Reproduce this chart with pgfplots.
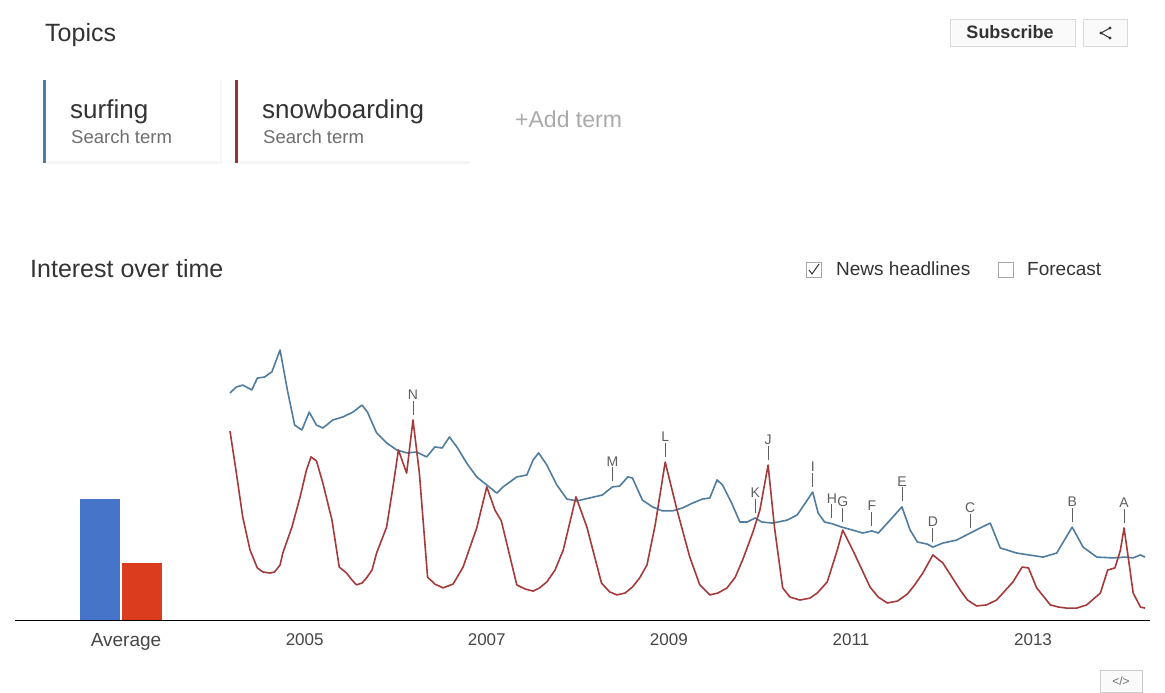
\documentclass[border=0pt]{standalone}
\usepackage{fontspec}
\setmainfont{Liberation Sans}
\usepackage{pgfplots}
\pgfplotsset{compat=1.18}

\definecolor{surfline}{RGB}{80,124,158}
\definecolor{snowline}{RGB}{165,58,58}
\definecolor{surfbar}{RGB}{70,116,200}
\definecolor{snowbar}{RGB}{220,60,30}
\definecolor{txt}{RGB}{51,51,51}
\definecolor{ticktxt}{RGB}{70,70,70}
\definecolor{subtxt}{RGB}{110,110,110}
\definecolor{faint}{RGB}{170,170,170}
\definecolor{annot}{RGB}{95,95,95}
\definecolor{baseline}{RGB}{190,190,190}

\newcommand{\fs}[1]{\fontsize{#1}{#1}\selectfont}

\begin{document}
\begin{tikzpicture}
\useasboundingbox[fill=white] (0,0) rectangle (1165pt,-693pt);

% ---------- page furniture (pixel coordinates, y downwards) ----------
\begin{scope}[x=1pt,y=-1pt]
  \node[anchor=base west, inner sep=0pt, text=txt] at (45,42) {\fs{25}Topics};

  % term boxes
  \fill[black!4] (46,161) rectangle (222,164);
  \fill[black!4] (238,161) rectangle (470,164);
  \fill[black!3] (220,80) rectangle (222,161);
  \fill[surfline] (43,80) rectangle (46,163);
  \fill[snowline!90!black] (235,80) rectangle (238,163);
  \node[anchor=base west, inner sep=0pt, text=txt] at (70,118) {\fs{26}surfing};
  \node[anchor=base west, inner sep=0pt, text=subtxt] at (71,143) {\fs{18.5}Search term};
  \node[anchor=base west, inner sep=0pt, text=txt] at (262,118) {\fs{26}snowboarding};
  \node[anchor=base west, inner sep=0pt, text=subtxt] at (263,143) {\fs{18.5}Search term};
  \node[anchor=base west, inner sep=0pt, text=faint] at (515,128) {\fs{23}+Add term};

  % subscribe and share buttons
  \draw[black!15, fill=black!2] (950,19) rectangle (1075,46);
  \node[text=txt] at (1010,32) {\fs{18}\bfseries Subscribe};
  \draw[black!15, fill=black!2] (1083,19) rectangle (1127,46);
  \draw[txt, line width=1pt] (1110,28) -- (1101,33) -- (1110,38);
  \fill[txt] (1110,28) circle (1.6) (1101,33) circle (1.6) (1110,38) circle (1.6);

  \node[anchor=base west, inner sep=0pt, text=txt] at (30,277) {\fs{25}Interest over time};

  % checkboxes
  \draw[black!35] (806,262) rectangle (821,277);
  \draw[txt, line width=1pt] (809,270) -- (812,274) -- (819,264);
  \node[anchor=base west, inner sep=0pt, text=txt] at (836,275) {\fs{19}News headlines};
  \draw[black!35] (998,262) rectangle (1013,277);
  \node[anchor=base west, inner sep=0pt, text=txt] at (1027,275) {\fs{19}Forecast};

  % baseline
  \draw[baseline, line width=1pt] (15,620) -- (1150,620);

  % embed button
  \draw[black!20, fill=black!2] (1100,670) rectangle (1142,692);
  \node[text=subtxt] at (1121,681) {\fs{12}</>};
\end{scope}

% ---------- average bars ----------
\begin{axis}[
  at={(121pt,-620pt)}, anchor=south,
  scale only axis, width=82pt, height=270pt,
  xmin=-1, xmax=1, ymin=0, ymax=100,
  ybar=2pt, bar width=40pt,
  axis line style={draw=none},
  ytick=\empty, xtick={0}, xticklabels={Average},
  major tick length=0pt,
  xticklabel style={anchor=north, inner sep=0pt, yshift=-13pt, xshift=5pt,
    font=\fs{19}, text=ticktxt},
  clip=false,
]
\addplot[fill=surfbar, draw=none] coordinates {(0,45)};
\addplot[fill=snowbar, draw=none] coordinates {(0,21)};
\end{axis}

% ---------- interest over time ----------
\begin{axis}[
  at={(230pt,-620pt)}, anchor=south west,
  scale only axis, width=915pt, height=270pt,
  xmin=2004.18, xmax=2014.23, ymin=0, ymax=100,
  axis line style={draw=none},
  ytick=\empty, xtick={2005,2007,2009,2011,2013},
  xticklabels={2005,2007,2009,2011,2013},
  major tick length=0pt,
  xticklabel style={anchor=north, inner sep=0pt, yshift=-13pt,
    font=\fs{17}, text=ticktxt},
  clip=false,
]
\addplot[surfline, line width=1.6pt, line join=round] table {
x y
2004.18 84.1
2004.25 86.3
2004.32 87.0
2004.42 85.2
2004.48 89.6
2004.56 90.0
2004.64 91.9
2004.73 100
2004.81 85.2
2004.89 72.2
2004.97 70.4
2005.05 77.0
2005.13 72.2
2005.20 71.1
2005.31 74.1
2005.42 75.2
2005.53 77.0
2005.63 79.6
2005.69 77.0
2005.79 69.3
2005.90 65.6
2006.01 63.0
2006.12 61.9
2006.23 62.2
2006.34 60.4
2006.43 64.1
2006.51 63.7
2006.59 67.8
2006.68 63.7
2006.78 58.1
2006.89 53.0
2007.00 50.0
2007.11 47.0
2007.18 49.3
2007.33 53.0
2007.44 53.7
2007.51 59.3
2007.57 61.9
2007.66 57.4
2007.77 50.0
2007.88 44.8
2007.99 44.1
2008.13 45.2
2008.27 46.3
2008.38 49.3
2008.46 49.6
2008.55 53.0
2008.60 52.6
2008.71 44.4
2008.82 41.9
2008.93 40.4
2009.04 40.4
2009.15 41.5
2009.26 43.3
2009.37 44.8
2009.45 45.2
2009.53 51.9
2009.59 50.0
2009.69 43.3
2009.78 36.3
2009.86 36.3
2009.95 37.8
2010.02 36.3
2010.14 35.9
2010.30 37.0
2010.41 38.9
2010.52 44.4
2010.58 47.4
2010.64 39.6
2010.71 36.3
2010.80 35.6
2010.90 34.4
2011.02 33.3
2011.13 32.2
2011.23 33.0
2011.30 32.2
2011.43 37.0
2011.56 41.9
2011.65 33.3
2011.73 28.9
2011.84 28.1
2011.90 27.0
2012.01 28.5
2012.16 29.6
2012.31 32.2
2012.42 34.1
2012.53 35.9
2012.64 26.7
2012.82 24.8
2013.11 23.3
2013.26 24.8
2013.43 34.4
2013.55 27.0
2013.70 23.3
2013.88 23.0
2014.01 23.3
2014.10 23.0
2014.18 24.1
2014.23 23.3
};
\addplot[snowline, line width=1.6pt, line join=round] table {
x y
2004.18 70.0
2004.25 54.4
2004.32 38.1
2004.40 25.9
2004.48 19.3
2004.54 17.8
2004.62 17.4
2004.67 17.8
2004.73 20.4
2004.76 24.8
2004.86 34.4
2004.95 45.6
2005.02 55.6
2005.07 60.4
2005.13 58.9
2005.20 50.7
2005.30 37.0
2005.38 19.6
2005.46 17.4
2005.52 14.8
2005.57 13.0
2005.63 13.7
2005.68 15.6
2005.74 18.5
2005.79 24.8
2005.90 34.4
2005.97 49.3
2006.03 63.0
2006.12 54.4
2006.19 74.1
2006.26 54.4
2006.35 15.9
2006.43 13.3
2006.52 11.9
2006.63 13.3
2006.74 19.6
2006.89 34.1
2007.00 49.3
2007.09 40.7
2007.16 36.7
2007.33 13.0
2007.42 11.5
2007.51 10.7
2007.58 11.9
2007.66 14.1
2007.75 18.5
2007.84 25.9
2007.98 45.6
2008.10 34.4
2008.26 13.7
2008.35 10.4
2008.43 9.3
2008.52 10.0
2008.60 12.2
2008.68 15.6
2008.76 20.4
2008.85 35.2
2008.96 58.5
2009.09 40.7
2009.23 23.3
2009.34 13.0
2009.45 9.3
2009.54 10.0
2009.64 11.9
2009.73 15.9
2009.81 22.2
2009.92 32.2
2010.00 40.7
2010.09 57.4
2010.16 34.4
2010.25 11.9
2010.33 8.5
2010.44 7.4
2010.55 8.1
2010.63 10.0
2010.74 14.1
2010.85 25.9
2010.91 33.3
2011.02 25.9
2011.21 12.2
2011.30 8.5
2011.40 6.3
2011.51 7.0
2011.62 9.6
2011.70 13.0
2011.79 17.4
2011.90 24.1
2012.01 21.1
2012.20 11.1
2012.28 7.4
2012.38 5.2
2012.49 5.6
2012.60 7.4
2012.78 14.1
2012.88 19.6
2012.95 19.3
2013.04 11.9
2013.19 5.6
2013.28 4.8
2013.37 4.4
2013.48 4.4
2013.59 5.6
2013.74 10.0
2013.82 18.5
2013.90 19.3
2013.96 25.9
2014.00 34.1
2014.05 22.2
2014.10 10.0
2014.18 4.8
2014.23 4.4
};
% news headline markers
\addplot[draw=none, mark=none, forget plot,
  point meta=explicit symbolic,
  nodes near coords={\begin{tabular}{@{}c@{}}\pgfplotspointmeta\\[-3pt]\rule{0.8pt}{14pt}\end{tabular}},
  every node near coord/.style={anchor=south, inner sep=0pt, yshift=1pt,
    font=\fs{14}, text=annot},
] table[meta=lab] {
x y lab
2006.19 74.1 N
2008.38 49.3 M
2008.96 58.5 L
2009.95 37.8 K
2010.09 57.4 J
2010.58 47.4 I
2010.79 35.6 H
2010.91 34.4 G
2011.23 33.0 F
2011.56 41.9 E
2011.90 27.0 D
2012.31 32.2 C
2013.43 34.4 B
2014.00 34.1 A
};
\end{axis}
\end{tikzpicture}
\end{document}
